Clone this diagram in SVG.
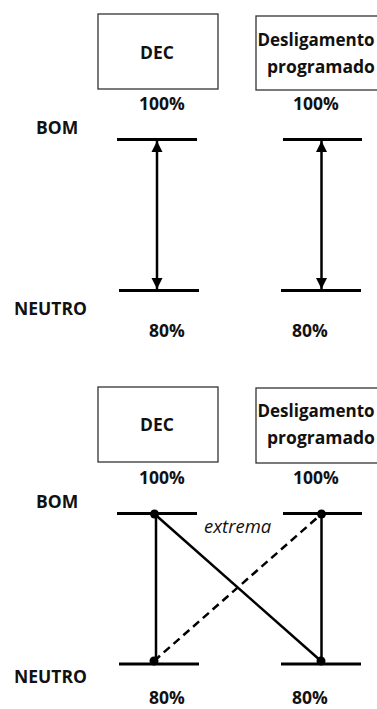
<svg xmlns="http://www.w3.org/2000/svg" width="377" height="709" viewBox="0 0 377 709">
<style>
text{font-family:"Open Sans","Liberation Sans",sans-serif;font-weight:700;font-size:17.5px;fill:#111}
.m{text-anchor:middle}
.d{font-size:17px}
.it{font-weight:400;font-style:italic;font-size:18.5px}
.box{fill:#fff;stroke:#333;stroke-width:1.3}
.lvl{stroke:#000;stroke-width:3}
.ln{stroke:#000;stroke-width:2.5;fill:none}
.dash{stroke-dasharray:8 5}
</style>
<defs>
<marker id="ah" viewBox="0 0 10 10" refX="10" refY="5" markerWidth="4.5" markerHeight="5" markerUnits="strokeWidth" orient="auto-start-reverse">
<path d="M0,0 L10,5 L0,10 z" fill="#000"/>
</marker>
</defs>
<g id="top-dec"><rect class="box" x="98" y="14" width="120" height="75"/><text class="m" x="157" y="59">DEC</text></g>
<g id="top-desl"><rect class="box" x="256" y="16" width="126" height="74"/><text class="m d" x="316" y="46">Desligamento</text><text class="m" x="321" y="73">programado</text></g>
<g id="top-labels">
<text class="m" x="162" y="110">100%</text>
<text class="m" x="316" y="110">100%</text>
<text x="36" y="134">BOM</text>
<text x="14" y="315">NEUTRO</text>
<text class="m" x="167" y="337">80%</text>
<text class="m" x="310" y="337">80%</text>
</g>
<g id="top-levels">
<line class="lvl" x1="117" y1="139.5" x2="197" y2="139.5"/>
<line class="lvl" x1="283" y1="139.5" x2="362" y2="139.5"/>
<line class="lvl" x1="119" y1="290.5" x2="199" y2="290.5"/>
<line class="lvl" x1="281" y1="290.5" x2="361" y2="290.5"/>
</g>
<g id="top-connectors">
<line class="ln" x1="157" y1="141" x2="157" y2="289" marker-start="url(#ah)" marker-end="url(#ah)"/>
<line class="ln" x1="321.5" y1="141" x2="321.5" y2="289" marker-start="url(#ah)" marker-end="url(#ah)"/>
</g>
<g id="bot-dec"><rect class="box" x="98" y="387" width="120" height="75"/><text class="m" x="157" y="431">DEC</text></g>
<g id="bot-desl"><rect class="box" x="256" y="388" width="126" height="75"/><text class="m d" x="316" y="417">Desligamento</text><text class="m" x="321" y="444">programado</text></g>
<g id="bot-labels">
<text class="m" x="162" y="484">100%</text>
<text class="m" x="316" y="484">100%</text>
<text x="36" y="508">BOM</text>
<text class="it" x="204" y="533">extrema</text>
<text x="14" y="683">NEUTRO</text>
<text class="m" x="167" y="704">80%</text>
<text class="m" x="310" y="704">80%</text>
</g>
<g id="bot-levels">
<line class="lvl" x1="117" y1="513.5" x2="197" y2="513.5"/>
<line class="lvl" x1="283" y1="513.5" x2="362" y2="513.5"/>
<line class="lvl" x1="119" y1="664" x2="199" y2="664"/>
<line class="lvl" x1="281" y1="664" x2="361" y2="664"/>
</g>
<g id="bot-connectors">
<line class="ln" x1="156" y1="514" x2="156" y2="661"/>
<line class="ln" x1="321.5" y1="514" x2="321.5" y2="661"/>
<line class="ln" x1="154.5" y1="514" x2="321" y2="661"/>
<line class="ln dash" x1="154" y1="661" x2="321.5" y2="514"/>
<circle cx="154.5" cy="514" r="4.5"/>
<circle cx="321.5" cy="514" r="4.5"/>
<circle cx="154" cy="661" r="4.5"/>
<circle cx="321" cy="661" r="4.5"/>
</g>
</svg>
